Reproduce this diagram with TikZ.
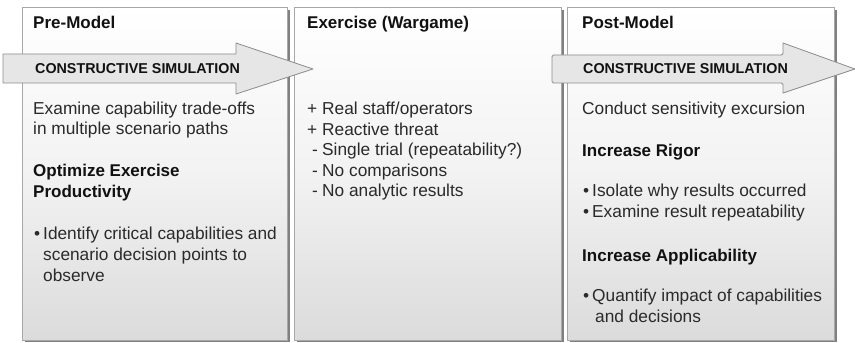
\documentclass[tikz,border=0pt]{standalone}
\usepackage{fontspec}
\setmainfont{Liberation Sans}
\usetikzlibrary{shadings}
\definecolor{boxline}{HTML}{A8A8A8}
\definecolor{boxshadow}{HTML}{808080}
\definecolor{arrline}{HTML}{8C8C8C}
\definecolor{arrfill}{HTML}{E6E6E6}
\definecolor{txt}{HTML}{2A2A2A}
\definecolor{ttl}{HTML}{111111}
\tikzset{
  panel/.style={draw=boxline, line width=0.8pt, top color=white, bottom color=black!14, middle color=black!5},
  panelshadow/.style={fill=boxshadow},
  simarrow/.style={draw=arrline, line width=0.8pt, fill=arrfill, line join=round},
  ttltext/.style={anchor=base west, inner sep=0pt, text=ttl, font=\fontsize{17}{20}\selectfont\bfseries},
  bodytext/.style={anchor=base west, inner sep=0pt, text=txt, font=\fontsize{17.3}{20.5}\selectfont},
  simtext/.style={anchor=base west, inner sep=0pt, text=ttl, font=\fontsize{14.3}{16}\selectfont\bfseries},
}
\begin{document}
\begin{tikzpicture}[x=1pt,y=1pt]
\useasboundingbox (0,0) rectangle (855,343);
% panels
\foreach \l/\r in {22/287, 294/561, 567/834}{
  \fill[panelshadow] (\l+3,0.5) rectangle (\r+3,333);
  \shade[panel] (\l,3) rectangle (\r,336);
}
% arrows
\draw[simarrow] (3,289) -- (236,289) -- (236,300) -- (313,274) -- (236,249) -- (236,260) -- (3,260) -- cycle;
\draw[simarrow, rounded corners=1.5pt] (552,288) -- (783,288) [sharp corners] -- (783,300) -- (855,274) -- (783,250) [rounded corners=1.5pt] -- (783,260) -- (552,260) -- cycle;
\node[simtext] (sim1) at (35,269) {CONSTRUCTIVE SIMULATION};
\node[simtext] (sim2) at (583,269) {CONSTRUCTIVE SIMULATION};
% titles
\node[ttltext] (t1) at (33,314) {Pre-Model};
\node[ttltext] (t2) at (307,314) {Exercise (Wargame)};
\node[ttltext] (t3) at (582,314) {Post-Model};
% left column
\node[bodytext] (l1) at (33,228) {Examine capability trade-offs};
\node[bodytext] (l2) at (33,208) {in multiple scenario paths};
\node[ttltext] (l3) at (33,166) {Optimize Exercise};
\node[ttltext] (l4) at (33,145) {Productivity};
\node[bodytext] (l5b) at (34,103) {\textbullet};
\node[bodytext] (l5) at (43,103) {Identify critical capabilities and};
\node[bodytext] (l6) at (43,82) {scenario decision points to};
\node[bodytext] (l7) at (43,61) {observe};
% middle column
\node[bodytext] (m1s) at (307,228) {+};
\node[bodytext] (m1) at (322,228) {Real staff/operators};
\node[bodytext] (m2s) at (307,207.5) {+};
\node[bodytext] (m2) at (322,207.5) {Reactive threat};
\node[bodytext] (m3s) at (312,187) {-};
\node[bodytext] (m3) at (322,187) {Single trial (repeatability?)};
\node[bodytext] (m4s) at (312,166.5) {-};
\node[bodytext] (m4) at (322,166.5) {No comparisons};
\node[bodytext] (m5s) at (312,146) {-};
\node[bodytext] (m5) at (322,146) {No analytic results};
% right column
\node[bodytext] (r1) at (582,228) {Conduct sensitivity excursion};
\node[ttltext] (r2) at (582,186) {Increase Rigor};
\node[bodytext] (r3b) at (583,146) {\textbullet};
\node[bodytext] (r3) at (592,146) {Isolate why results occurred};
\node[bodytext] (r4b) at (583,125) {\textbullet};
\node[bodytext] (r4) at (592,125) {Examine result repeatability};
\node[ttltext] (r5) at (582,81) {Increase Applicability};
\node[bodytext] (r6b) at (583,41) {\textbullet};
\node[bodytext] (r6) at (592,41) {Quantify impact of capabilities};
\node[bodytext] (r7) at (595,20) {and decisions};
\end{tikzpicture}
\end{document}
